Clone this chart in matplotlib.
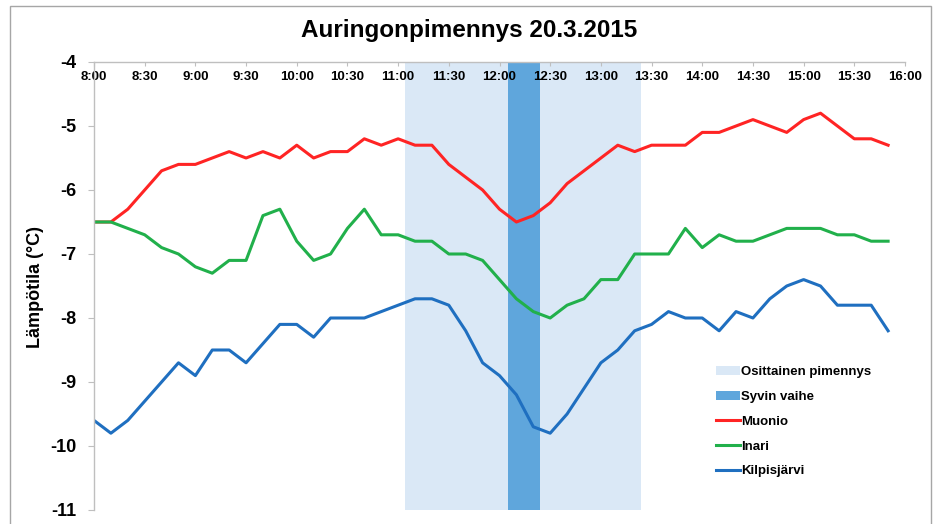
import matplotlib
matplotlib.use("Agg")
import matplotlib.pyplot as plt
from matplotlib.patches import Patch, Rectangle
from matplotlib.lines import Line2D

plt.rcParams['font.family'] = ['Liberation Sans', 'DejaVu Sans']
plt.rcParams['axes.unicode_minus'] = False

# ---- data ----
times = ["8:00", "8:10", "8:20", "8:30", "8:40", "8:50",
         "9:00", "9:10", "9:20", "9:30", "9:40", "9:50",
         "10:00", "10:10", "10:20", "10:30", "10:40", "10:50",
         "11:00", "11:10", "11:20", "11:30", "11:40", "11:50",
         "12:00", "12:10", "12:20", "12:30", "12:40", "12:50",
         "13:00", "13:10", "13:20", "13:30", "13:40", "13:50",
         "14:00", "14:10", "14:20", "14:30", "14:40", "14:50",
         "15:00", "15:10", "15:20", "15:30", "15:40", "15:50"]

muonio = [-6.5, -6.5, -6.3, -6.0, -5.7, -5.6,
          -5.6, -5.5, -5.4, -5.5, -5.4, -5.5,
          -5.3, -5.5, -5.4, -5.4, -5.2, -5.3,
          -5.2, -5.3, -5.3, -5.6, -5.8, -6.0,
          -6.3, -6.5, -6.4, -6.2, -5.9, -5.7,
          -5.5, -5.3, -5.4, -5.3, -5.3, -5.3,
          -5.1, -5.1, -5.0, -4.9, -5.0, -5.1,
          -4.9, -4.8, -5.0, -5.2, -5.2, -5.3]

inari = [-6.5, -6.5, -6.6, -6.7, -6.9, -7.0,
         -7.2, -7.3, -7.1, -7.1, -6.4, -6.3,
         -6.8, -7.1, -7.0, -6.6, -6.3, -6.7,
         -6.7, -6.8, -6.8, -7.0, -7.0, -7.1,
         -7.4, -7.7, -7.9, -8.0, -7.8, -7.7,
         -7.4, -7.4, -7.0, -7.0, -7.0, -6.6,
         -6.9, -6.7, -6.8, -6.8, -6.7, -6.6,
         -6.6, -6.6, -6.7, -6.7, -6.8, -6.8]

kilpisjarvi = [-9.6, -9.8, -9.6, -9.3, -9.0, -8.7,
               -8.9, -8.5, -8.5, -8.7, -8.4, -8.1,
               -8.1, -8.3, -8.0, -8.0, -8.0, -7.9,
               -7.8, -7.7, -7.7, -7.8, -8.2, -8.7,
               -8.9, -9.2, -9.7, -9.8, -9.5, -9.1,
               -8.7, -8.5, -8.2, -8.1, -7.9, -8.0,
               -8.0, -8.2, -7.9, -8.0, -7.7, -7.5,
               -7.4, -7.5, -7.8, -7.8, -7.8, -8.2]

partial_phase = ("11:04", "13:24")
deepest_phase = ("12:05", "12:24")

tick_labels = ["8:00", "8:30", "9:00", "9:30", "10:00", "10:30", "11:00", "11:30",
               "12:00", "12:30", "13:00", "13:30", "14:00", "14:30", "15:00",
               "15:30", "16:00"]
y_ticks = [-11, -10, -9, -8, -7, -6, -5, -4]


def to_hours(s):
    h, m = s.split(":")
    return int(h) + int(m) / 60.0


x = [to_hours(t) for t in times]

fig = plt.figure(figsize=(9.39, 5.24), dpi=100)
ax = fig.add_axes([94 / 939, 1 - 510 / 524, (905 - 94) / 939, (510 - 62) / 524])

c_light = "#dae8f6"
c_dark = "#5fa6dc"
c_red = "#ff2424"
c_green = "#21b04b"
c_blue = "#1f6fc0"

ax.axvspan(to_hours(partial_phase[0]), to_hours(partial_phase[1]), color=c_light, lw=0, zorder=0)
ax.axvspan(to_hours(deepest_phase[0]), to_hours(deepest_phase[1]), color=c_dark, lw=0, zorder=1)

ax.plot(x, muonio, color=c_red, lw=2.2, zorder=3)
ax.plot(x, inari, color=c_green, lw=2.2, zorder=3)
ax.plot(x, kilpisjarvi, color=c_blue, lw=2.2, zorder=3)

ax.set_xlim(8, 16)
ax.set_ylim(-11, -4)

# x-axis sits at the top (y = -4), labels below the line like in Excel
ax.spines['bottom'].set_position(('data', -4))
ax.spines['top'].set_visible(False)
ax.spines['right'].set_visible(False)
for s in ['bottom', 'left']:
    ax.spines[s].set_color("#bfbfbf")
    ax.spines[s].set_linewidth(1.0)
    ax.spines[s].set_zorder(4)

ax.set_xticks([to_hours(t) for t in tick_labels])
ax.set_xticklabels(tick_labels, fontsize=9.5, fontweight='bold')
ax.tick_params(axis='x', direction='out', length=3, color="#bfbfbf", pad=3.5)

ax.set_yticks(y_ticks)
ax.set_yticklabels([str(v) for v in y_ticks], fontsize=13, fontweight='bold')
ax.tick_params(axis='y', direction='out', length=4.5, color="#bfbfbf", pad=8)
ax.set_facecolor("white")

fig.text(0.5, 1 - 30 / 524, "Auringonpimennys 20.3.2015", ha='center', va='center',
         fontsize=17.5, fontweight='bold')
fig.text(35 / 939, 1 - 287 / 524, "Lämpötila (°C)", rotation=90, ha='center', va='center',
         fontsize=13, fontweight='bold')

# outer chart frame
fig.patches.append(Rectangle((10 / 939, -0.1), (931 - 10) / 939, 1 - 6 / 524 + 0.1,
                             transform=fig.transFigure, fill=False,
                             edgecolor="#a6a6a6", lw=1.0))

handles = [Patch(facecolor=c_light, edgecolor='none'),
           Patch(facecolor=c_dark, edgecolor='none'),
           Line2D([], [], color=c_red, lw=2.2),
           Line2D([], [], color=c_green, lw=2.2),
           Line2D([], [], color=c_blue, lw=2.2)]
labels = ["Osittainen pimennys", "Syvin vaihe", "Muonio", "Inari", "Kilpisjärvi"]
fig.legend(handles, labels, loc='upper left', bbox_to_anchor=(716 / 939, 1 - 366 / 524),
           frameon=False, prop={'size': 9.5, 'weight': 'bold'}, handlelength=1.8,
           handletextpad=0.1, labelspacing=0.95, borderpad=0, borderaxespad=0)

fig.savefig("out.png", dpi=100)
